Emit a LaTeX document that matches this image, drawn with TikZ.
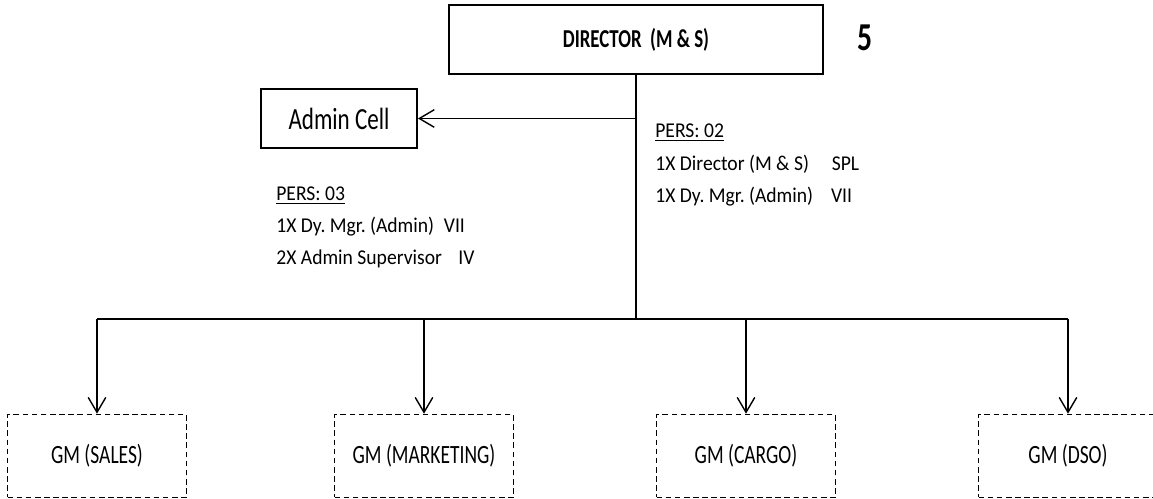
\documentclass[tikz,border=0pt]{standalone}
\usepackage{fontspec}
\setmainfont{Carlito}
\usepackage{graphicx}
\usetikzlibrary{arrows.meta}
\newcommand{\narrowtext}[2][0.75]{\scalebox{#1}[1]{#2}}
\frenchspacing

\begin{document}
\begin{tikzpicture}[x=0.02cm, y=-0.02cm,
    solidbox/.style={draw, line width=1.1pt, inner sep=0pt},
    gmbox/.style={draw, dash pattern=on 3.2pt off 2pt, line width=0.9pt, inner sep=0pt,
        minimum width=3.58cm, minimum height=1.66cm, font=\fontsize{15}{18}\selectfont},
    note/.style={anchor=base west, inner sep=0pt, font=\fontsize{12}{14}\selectfont},
    trunk/.style={line width=1.6pt},
    bus/.style={line width=1.3pt},
    down/.style={line width=0.8pt, -{Straight Barb[length=8.5pt, width=10pt]}}]

    \useasboundingbox (0,0) rectangle (1153,499);

            % top of the chart
            \node[solidbox, minimum width=7.48cm, minimum height=1.38cm,
                  font=\fontsize{14.7}{17}\selectfont\bfseries] (director) at (636,39.5)
                  {\narrowtext[0.73]{DIRECTOR\ \ (M \& S)}};
            \node[font=\fontsize{22.5}{26}\selectfont\bfseries] (unit) at (865.5,37.5) {\narrowtext{5}};
            \node[solidbox, minimum width=3.12cm, minimum height=1.18cm,
                  font=\fontsize{17.5}{20}\selectfont] (admin) at (339,118.5) {\narrowtext{Admin Cell}};

            % staff notes
            \node[note] (pers02)  at (655,138) {\narrowtext[0.93]{\underline{PERS: 02}}};
            \node[note] (pers02a) at (655,171) {\narrowtext[0.93]{1X Director (M \& S)\hspace{14pt}SPL}};
            \node[note] (pers02b) at (655,203) {\narrowtext[0.93]{1X Dy. Mgr. (Admin)\hspace{11pt}VII}};

            \node[note] (pers03)  at (276,201) {\narrowtext[0.93]{\underline{PERS: 03}}};
            \node[note] (pers03a) at (276,233) {\narrowtext[0.93]{1X Dy. Mgr. (Admin)\hspace{6pt}VII}};
            \node[note] (pers03b) at (276,265) {\narrowtext[0.93]{2X Admin Supervisor\hspace{10pt}IV}};

            % general managers
            \node[gmbox] (sales)     at (97,456)   {\narrowtext[0.74]{GM (SALES)}};
            \node[gmbox] (marketing) at (424,456)  {\narrowtext[0.74]{GM (MARKETING)}};
            \node[gmbox] (cargo)     at (746,456)  {\narrowtext[0.74]{GM (CARGO)}};
            \node[gmbox] (dso)       at (1068,456) {\narrowtext[0.74]{GM (DSO)}};

            \coordinate (hub) at (636,319);
            \coordinate (tap) at (director.south |- admin.east);

            \draw[trunk] (director.south) -- (hub);
            \draw[down] (tap) -- (admin.east);
            \draw[bus] (sales.north |- hub) -- (dso.north |- hub);
            \foreach \g in {sales, marketing, cargo, dso}
                \draw[down] (\g.north |- hub) -- (\g.north);
\end{tikzpicture}
\end{document}
